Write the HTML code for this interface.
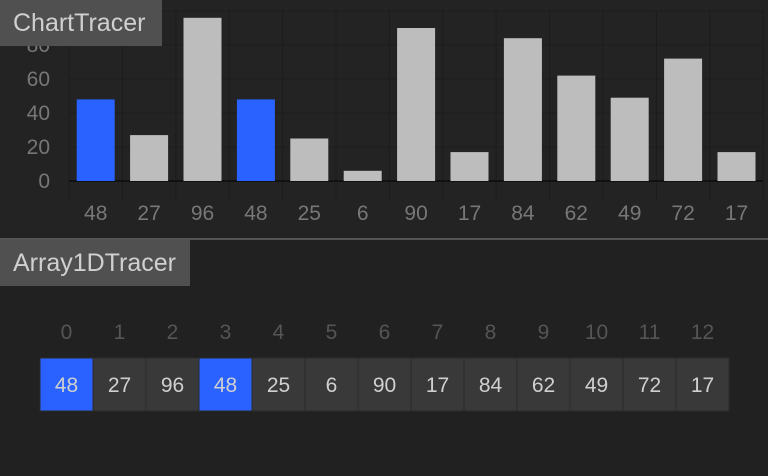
<!DOCTYPE html>
<html><head><meta charset="utf-8"><style>
body{margin:0;width:768px;height:476px;background:#242424;overflow:hidden;font-family:"Liberation Sans",sans-serif}
.title{position:absolute;left:0;height:46px;background:#505050;color:#d0d0d0;font-size:25px;line-height:46px;padding:0 0 0 13px;box-sizing:border-box;}
</style></head><body>
<svg id="chart" width="768" height="476" style="position:absolute;left:0;top:0">
<rect x="0" y="0" width="768" height="238" fill="#232323"/>
<rect x="0" y="238" width="768" height="2" fill="#555"/>
<rect x="0" y="240" width="768" height="236" fill="#212121"/>
</svg>
<div class="title" style="top:0px;width:162px">ChartTracer</div>
<div class="title" style="top:240px;width:190px">Array1DTracer</div>
<script>
const values=[48,27,96,48,25,6,90,17,84,62,49,72,17];
const highlighted=[0,3];
const yTicks=[0,20,40,60,80,100];
const NS="http://www.w3.org/2000/svg";
const svg=document.getElementById('chart');
const x0=69,colW=53.4,y0=181,k=1.7;
const X=i=>x0+i*colW, Y=v=>y0-v*k;
function mk(t,a,p){const e=document.createElementNS(NS,t);for(const n in a)e.setAttribute(n,a[n]);(p||svg).appendChild(e);return e;}
for(let i=0;i<=values.length;i++){const l=mk('line',{x1:X(i),x2:X(i),y1:10,y2:200,stroke:'#1c1c1c','stroke-width':1});

}
yTicks.forEach(t=>{const l=mk('line',{x1:x0,x2:763,y1:Y(t),y2:Y(t),stroke:t?'#1c1c1c':'#111','stroke-width':t?1:2});


const tx=mk('text',{x:50,y:Y(t)+7,'text-anchor':'end',fill:'#777','font-size':21,'font-family':'Liberation Sans'});tx.textContent=t;

});
values.forEach((v,i)=>{const hl=highlighted.includes(i);
const b=mk('rect',{x:X(i)+7.7,y:Y(v),width:38,height:v*k,fill:hl?'#2962ff':'#bdbdbd'});


const t=mk('text',{x:X(i)+colW/2,y:220,'text-anchor':'middle',fill:'#777','font-size':21,'font-family':'Liberation Sans'});t.textContent=v;


const ix=mk('text',{x:40+i*53+26.5,y:339,'text-anchor':'middle',fill:'#555','font-size':21,'font-family':'Liberation Sans'});ix.textContent=i;


const c=mk('rect',{x:40+i*53,y:358,width:53,height:53,fill:hl?'#2962ff':'#393939',stroke:'#2a2a2a','stroke-width':1});


const ct=mk('text',{x:40+i*53+26.5,y:392,'text-anchor':'middle',fill:'#d0d0d0','font-size':21,'font-family':'Liberation Sans'});ct.textContent=v;

});
</script>
</body></html>
